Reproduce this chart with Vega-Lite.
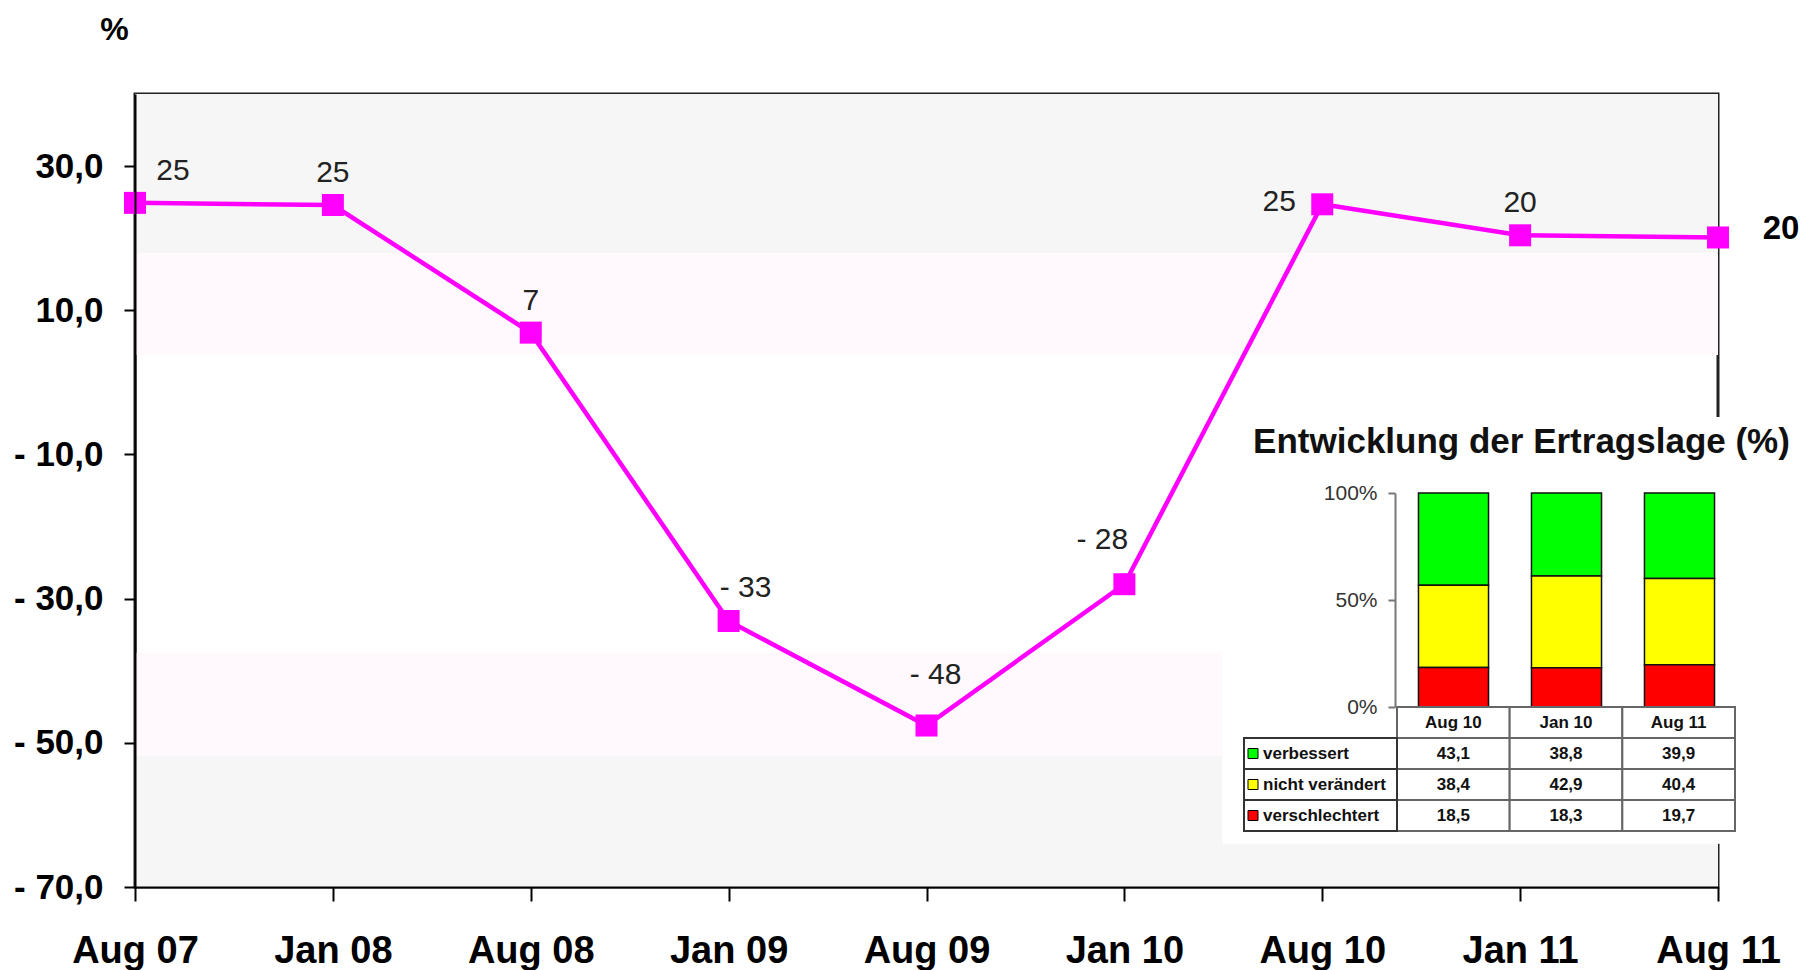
{
  "$schema": "https://vega.github.io/schema/vega-lite/v6.json",
  "width": 1583,
  "height": 793,
  "autosize": {"type": "none"},
  "padding": {"left": 135, "top": 94, "right": 86, "bottom": 83},
  "background": "white",
  "config": {
    "font": "Liberation Sans",
    "view": {"stroke": "#222", "strokeWidth": 3}
  },
  "datasets": {
    "saldo": [
      {"monat": "Aug 07", "wert": 24.9},
      {"monat": "Jan 08", "wert": 24.6},
      {"monat": "Aug 08", "wert": 6.9},
      {"monat": "Jan 09", "wert": -33.1},
      {"monat": "Aug 09", "wert": -47.6},
      {"monat": "Jan 10", "wert": -28.0},
      {"monat": "Aug 10", "wert": 24.7},
      {"monat": "Jan 11", "wert": 20.4},
      {"monat": "Aug 11", "wert": 20.1}
    ],
    "baender": [
      {"von": 17.9, "bis": 40, "ton": "grau"},
      {"von": 3.8, "bis": 17.9, "ton": "rosa"},
      {"von": -51.8, "bis": -37.5, "ton": "rosa"},
      {"von": -70, "bis": -51.8, "ton": "grau"}
    ],
    "ertrag": [
      {"zeitraum": "Aug 10", "lage": "verbessert", "stapel": 3, "anteil": 43.1},
      {"zeitraum": "Aug 10", "lage": "nicht verändert", "stapel": 2, "anteil": 38.4},
      {"zeitraum": "Aug 10", "lage": "verschlechtert", "stapel": 1, "anteil": 18.5},
      {"zeitraum": "Jan 10", "lage": "verbessert", "stapel": 3, "anteil": 38.8},
      {"zeitraum": "Jan 10", "lage": "nicht verändert", "stapel": 2, "anteil": 42.9},
      {"zeitraum": "Jan 10", "lage": "verschlechtert", "stapel": 1, "anteil": 18.3},
      {"zeitraum": "Aug 11", "lage": "verbessert", "stapel": 3, "anteil": 39.9},
      {"zeitraum": "Aug 11", "lage": "nicht verändert", "stapel": 2, "anteil": 40.4},
      {"zeitraum": "Aug 11", "lage": "verschlechtert", "stapel": 1, "anteil": 19.7}
    ],
    "zeitraeume": [
      {"zeitraum": "Aug 10"},
      {"zeitraum": "Jan 10"},
      {"zeitraum": "Aug 11"}
    ],
    "lagen": [
      {"lage": "verbessert"},
      {"lage": "nicht verändert"},
      {"lage": "verschlechtert"}
    ]
  },
  "layer": [
    {
      "layer": [
        {
          "data": {"name": "baender"},
          "mark": {"type": "rect"},
          "encoding": {
            "y": {
              "field": "von",
              "type": "quantitative",
              "scale": {"domain": [-70, 40], "nice": false, "zero": false},
              "axis": {
                "orient": "left",
                "zindex": 1,
                "title": "%",
                "titleAngle": 0,
                "titleX": -21,
                "titleY": -65,
                "titleAlign": "center",
                "titleBaseline": "middle",
                "titleFontSize": 32,
                "titleFontWeight": "bold",
                "titleColor": "black",
                "values": [30, 10, -10, -30, -50, -70],
                "labelExpr": "datum.value < 0 ? '- ' + replace(format(-datum.value, '.1f'), '.', ',') : replace(format(datum.value, '.1f'), '.', ',')",
                "labelFontSize": 35,
                "labelFontWeight": "bold",
                "labelColor": "black",
                "labelPadding": 21,
                "labelAlign": "right",
                "labelBaseline": "middle",
                "labelFlush": false,
                "labelOverlap": false,
                "tickSize": 11,
                "tickWidth": 2,
                "tickColor": "black",
                "domainColor": "black",
                "domainWidth": 2,
                "grid": false
              }
            },
            "y2": {"field": "bis"},
            "color": {
              "field": "ton",
              "type": "nominal",
              "scale": {"domain": ["grau", "rosa"], "range": ["#f6f6f6", "#fff9fe"]},
              "legend": null
            }
          }
        },
        {
          "data": {"values": [{}]},
          "mark": {"type": "rect", "fill": "white", "xOffset": 98, "x2Offset": 22},
          "encoding": {
            "x": {"datum": "Jan 10", "type": "ordinal"},
            "x2": {"datum": "Aug 11"},
            "y": {"datum": -4.8, "type": "quantitative"},
            "y2": {"datum": -64}
          }
        },
        {
          "data": {"name": "saldo"},
          "layer": [
            {
              "mark": {"type": "line", "color": "#ff00ff", "strokeWidth": 4.5},
              "encoding": {
                "x": {
                  "field": "monat",
                  "type": "ordinal",
                  "scale": {
                    "type": "point",
                    "padding": 0,
                    "domain": ["Aug 07", "Jan 08", "Aug 08", "Jan 09", "Aug 09", "Jan 10", "Aug 10", "Jan 11", "Aug 11"]
                  },
                  "axis": {
                    "orient": "bottom",
                    "zindex": 1,
                    "title": null,
                    "labelAngle": 0,
                    "labelAlign": "center",
                    "labelBaseline": "top",
                    "labelFontSize": 38,
                    "labelFontWeight": "bold",
                    "labelColor": "black",
                    "labelPadding": 31,
                    "labelFlush": false,
                    "labelOverlap": false,
                    "tickSize": 14,
                    "tickWidth": 2,
                    "tickColor": "black",
                    "domainColor": "black",
                    "domainWidth": 2,
                    "grid": false
                  }
                },
                "y": {"field": "wert", "type": "quantitative"}
              }
            },
            {
              "mark": {"type": "square", "color": "#ff00ff", "size": 484, "opacity": 1, "filled": true},
              "encoding": {
                "x": {"field": "monat", "type": "ordinal"},
                "y": {"field": "wert", "type": "quantitative"}
              }
            },
            {
              "transform": [{"filter": "datum.monat == 'Aug 07'"}],
              "mark": {"type": "text", "dx": 38, "dy": -23, "fontSize": 30, "color": "#222", "align": "center", "baseline": "alphabetic", "text": {"expr": "(datum.wert < 0 ? '- ' : '') + format(abs(round(datum.wert)), 'd')"}},
              "encoding": {"x": {"field": "monat", "type": "ordinal"}, "y": {"field": "wert", "type": "quantitative"}}
            },
            {
              "transform": [{"filter": "datum.monat == 'Jan 08' || datum.monat == 'Aug 08' || datum.monat == 'Jan 11'"}],
              "mark": {"type": "text", "dx": 0, "dy": -23, "fontSize": 30, "color": "#222", "align": "center", "baseline": "alphabetic", "text": {"expr": "(datum.wert < 0 ? '- ' : '') + format(abs(round(datum.wert)), 'd')"}},
              "encoding": {"x": {"field": "monat", "type": "ordinal"}, "y": {"field": "wert", "type": "quantitative"}}
            },
            {
              "transform": [{"filter": "datum.monat == 'Jan 09'"}],
              "mark": {"type": "text", "dx": 17, "dy": -24, "fontSize": 30, "color": "#222", "align": "center", "baseline": "alphabetic", "text": {"expr": "(datum.wert < 0 ? '- ' : '') + format(abs(round(datum.wert)), 'd')"}},
              "encoding": {"x": {"field": "monat", "type": "ordinal"}, "y": {"field": "wert", "type": "quantitative"}}
            },
            {
              "transform": [{"filter": "datum.monat == 'Aug 09'"}],
              "mark": {"type": "text", "dx": 9, "dy": -42, "fontSize": 30, "color": "#222", "align": "center", "baseline": "alphabetic", "text": {"expr": "(datum.wert < 0 ? '- ' : '') + format(abs(round(datum.wert)), 'd')"}},
              "encoding": {"x": {"field": "monat", "type": "ordinal"}, "y": {"field": "wert", "type": "quantitative"}}
            },
            {
              "transform": [{"filter": "datum.monat == 'Jan 10'"}],
              "mark": {"type": "text", "dx": -22, "dy": -35, "fontSize": 30, "color": "#222", "align": "center", "baseline": "alphabetic", "text": {"expr": "(datum.wert < 0 ? '- ' : '') + format(abs(round(datum.wert)), 'd')"}},
              "encoding": {"x": {"field": "monat", "type": "ordinal"}, "y": {"field": "wert", "type": "quantitative"}}
            },
            {
              "transform": [{"filter": "datum.monat == 'Aug 10'"}],
              "mark": {"type": "text", "dx": -43, "dy": 7, "fontSize": 30, "color": "#222", "align": "center", "baseline": "alphabetic", "text": {"expr": "(datum.wert < 0 ? '- ' : '') + format(abs(round(datum.wert)), 'd')"}},
              "encoding": {"x": {"field": "monat", "type": "ordinal"}, "y": {"field": "wert", "type": "quantitative"}}
            },
            {
              "transform": [{"filter": "datum.monat == 'Aug 11'"}],
              "mark": {"type": "text", "dx": 63, "dy": 2, "fontSize": 33, "fontWeight": "bold", "color": "black", "align": "center", "baseline": "alphabetic", "text": {"expr": "(datum.wert < 0 ? '- ' : '') + format(abs(round(datum.wert)), 'd')"}},
              "encoding": {"x": {"field": "monat", "type": "ordinal"}, "y": {"field": "wert", "type": "quantitative"}}
            }
          ]
        }
      ]
    },
    {
      "layer": [
        {
          "layer": [
            {
              "data": {"name": "ertrag"},
              "mark": {"type": "bar", "stroke": "#111", "strokeWidth": 1.5},
              "encoding": {
                "x": {
                  "field": "zeitraum",
                  "type": "nominal",
                  "scale": {"type": "band", "domain": ["Aug 10", "Jan 10", "Aug 11"], "range": [1262, 1601], "paddingInner": 0.38, "paddingOuter": 0.19},
                  "axis": null
                },
                "y": {
                  "field": "anteil",
                  "type": "quantitative",
                  "stack": "normalize",
                  "scale": {"range": [613, 399]},
                  "axis": {
                    "orient": "left",
                    "zindex": 1,
                    "offset": -1260,
                    "values": [0, 0.5, 1],
                    "format": "%",
                    "title": null,
                    "grid": false,
                    "labelFontSize": 21,
                    "labelColor": "#333",
                    "labelPadding": 11,
                    "labelFlush": false,
                    "tickSize": 7,
                    "tickColor": "#777",
                    "tickWidth": 2,
                    "domainColor": "#777",
                    "domainWidth": 2
                  }
                },
                "color": {
                  "field": "lage",
                  "type": "nominal",
                  "scale": {"domain": ["verbessert", "nicht verändert", "verschlechtert"], "range": ["#00ff00", "#ffff00", "#ff0000"]},
                  "legend": null
                },
                "order": {"field": "stapel", "type": "quantitative", "sort": "ascending"}
              }
            },
            {
              "data": {"values": [{}]},
              "mark": {"type": "text", "text": "Entwicklung der Ertragslage (%)", "fontSize": 35, "fontWeight": "bold", "color": "#111", "dx": -45, "dy": -40, "align": "center", "baseline": "alphabetic"},
              "encoding": {
                "x": {"datum": "Jan 10", "type": "nominal"},
                "y": {"datum": 1, "type": "quantitative"}
              }
            }
          ]
        },
        {
          "layer": [
            {
              "layer": [
                {
                  "data": {"name": "zeitraeume"},
                  "mark": {"type": "rect", "fill": "white", "stroke": "#666", "strokeWidth": 2},
                  "encoding": {
                    "x": {
                      "field": "zeitraum",
                      "type": "nominal",
                      "scale": {"type": "band", "domain": ["Aug 10", "Jan 10", "Aug 11"], "range": [1262, 1600], "paddingInner": 0, "paddingOuter": 0},
                      "axis": null
                    },
                    "y": {
                      "datum": "Zeitraum",
                      "type": "nominal",
                      "scale": {"type": "band", "domain": ["Zeitraum", "verbessert", "nicht verändert", "verschlechtert"], "range": [613, 737], "paddingInner": 0, "paddingOuter": 0},
                      "axis": null
                    }
                  }
                },
                {
                  "data": {"name": "zeitraeume"},
                  "mark": {"type": "text", "fontSize": 17, "fontWeight": "bold", "color": "#111", "align": "center", "baseline": "middle"},
                  "encoding": {
                    "x": {"field": "zeitraum", "type": "nominal"},
                    "y": {"datum": "Zeitraum", "type": "nominal"},
                    "text": {"field": "zeitraum"}
                  }
                },
                {
                  "data": {"name": "ertrag"},
                  "mark": {"type": "rect", "fill": "white", "stroke": "#666", "strokeWidth": 2},
                  "encoding": {
                    "x": {"field": "zeitraum", "type": "nominal"},
                    "y": {"field": "lage", "type": "nominal"}
                  }
                },
                {
                  "data": {"name": "ertrag"},
                  "mark": {"type": "text", "fontSize": 17, "fontWeight": "bold", "color": "#111", "align": "center", "baseline": "middle", "text": {"expr": "replace(format(datum.anteil, '.1f'), '.', ',')"}},
                  "encoding": {
                    "x": {"field": "zeitraum", "type": "nominal"},
                    "y": {"field": "lage", "type": "nominal"}
                  }
                }
              ]
            },
            {
              "data": {"name": "lagen"},
              "layer": [
                {
                  "mark": {"type": "rect", "fill": "white", "stroke": "#333", "strokeWidth": 2},
                  "encoding": {
                    "x": {
                      "datum": "Legende",
                      "type": "nominal",
                      "scale": {"type": "band", "domain": ["Legende"], "range": [1109, 1262], "paddingInner": 0, "paddingOuter": 0},
                      "axis": null
                    },
                    "y": {"field": "lage", "type": "nominal"}
                  }
                },
                {
                  "mark": {"type": "square", "size": 100, "filled": true, "opacity": 1, "stroke": "black", "strokeWidth": 1, "xOffset": 9},
                  "encoding": {
                    "x": {"datum": "Legende", "type": "nominal", "bandPosition": 0},
                    "y": {"field": "lage", "type": "nominal"},
                    "color": {"field": "lage", "type": "nominal", "legend": null}
                  }
                },
                {
                  "mark": {"type": "text", "fontSize": 17, "fontWeight": "bold", "color": "#111", "align": "left", "baseline": "middle", "dx": 19},
                  "encoding": {
                    "x": {"datum": "Legende", "type": "nominal", "bandPosition": 0},
                    "y": {"field": "lage", "type": "nominal"},
                    "text": {"field": "lage"}
                  }
                }
              ]
            }
          ],
          "resolve": {"scale": {"x": "independent"}}
        }
      ],
      "resolve": {"scale": {"x": "independent", "y": "independent"}}
    }
  ],
  "resolve": {"scale": {"x": "independent", "y": "independent", "color": "independent"}}
}
